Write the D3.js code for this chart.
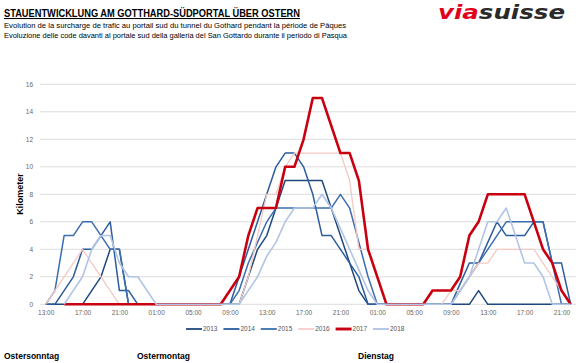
<!DOCTYPE html>
<html>
<head>
<meta charset="utf-8">
<script src="https://cdn.jsdelivr.net/npm/d3@7"></script>
<style>
  body { margin: 0; background: #fff; }
  svg { font-family: "Liberation Sans", Arial, sans-serif; }
</style>
</head>
<body>
<div class="chart"></div>
<script>
// hourly values, Sunday 13:00 .. Tuesday 22:00
var years = ["2013", "2014", "2015", "2016", "2017", "2018"];
var tickLabels = ["13:00","17:00","21:00","01:00","05:00","09:00","13:00","17:00","21:00","01:00","05:00","09:00","13:00","17:00","21:00"];
var yTicks = [0, 2, 4, 6, 8, 10, 12, 14, 16];
var dayLabels = ["Ostersonntag", "Ostermontag", "Dienstag"];

var km2013 = [0,0,0,0,0,1,2,4,4,0, 0,0,0,0,0,0,0,0,0,0, 0,0,2,4,5,7,9,9,9,9, 9,7,5,3,1,0,0,0,0,0, 0,0,0,0,0,0,0,1,0,0, 0,0,0,0,0,0,0,0];
var km2014 = [0,0,1,2,4,4,5,6,1,1, 0,0,0,0,0,0,0,0,0,0, 0,2,4,6,8,10,11,11,10,8, 5,5,4,3,2,0,0,0,0,0, 0,0,0,0,0,1.5,3,3,4.5,6, 5,5,5,6,6,3,3,0];
var km2015 = [0,1,5,5,6,6,5,4,4,0, 0,0,0,0,0,0,0,0,0,0, 0,1,3,4.5,6,7,7,7,7,7, 7,7,8,7,4.5,2,0,0,0,0, 0,0,0,0,0,1,2,3,4,5, 6,6,6,6,6,3,0,0];
var km2016 = [0,1,2,3,4,3,2,1,0,0, 0,0,0,0,0,0,0,0,0,0, 0,0,2,5,8,8,10,11,11,11, 11,11,11,9,4,4,2,0,0,0, 0,0,0,0,1,1,2,3,3,4, 4,4,4,4,3,2,1,0];
var km2017 = [null,null,0,0,0,0,0,0,0,0, 0,0,0,0,0,0,0,0,0,0, 1,2,5,7,7,7,10,10,12,15, 15,13,11,11,9,4,2,0,0,0, 0,0,1,1,1,2,5,6,8,8, 8,8,8,6,4,3,1,0];
var km2018 = [null,null,0,1,2,4,5,5,3,2, 2,1,0,0,0,0,0,0,0,0, 0,0,1,2,3.5,4.5,6,7,7,7, 8,7,5.5,4,2.5,1,0,0,0,0, 0,0,0,0,0,1,2,4,6,6, 7,5,3,3,2,0,0,0];

var seriesValues = [km2013, km2014, km2015, km2016, km2017, km2018];
var colors = ["#1f497d", "#2b5c9b", "#3a6db2", "#f4c9c6", "#c8000f", "#b1c5e4"];
var widths = [1.5, 1.5, 1.5, 1.3, 2.6, 1.6];

var width = 582, height = 363;

var svg = d3.select(".chart").append("svg")
    .attr("width", width)
    .attr("height", height);

/************* header ***************/
svg.append("text")
    .attr("x", 4).attr("y", 17)
    .attr("font-size", 10.5)
    .attr("font-weight", "bold")
    .attr("text-decoration", "underline")
    .attr("textLength", 296)
    .attr("lengthAdjust", "spacingAndGlyphs")
    .text("STAUENTWICKLUNG AM GOTTHARD-SÜDPORTAL ÜBER OSTERN");

svg.append("text")
    .attr("x", 4).attr("y", 28)
    .attr("font-size", 8)
    .attr("textLength", 342)
    .attr("lengthAdjust", "spacingAndGlyphs")
    .text("Evolution de la surcharge de trafic au portail sud du tunnel du Gothard pendant la période de Pâques");

svg.append("text")
    .attr("x", 4).attr("y", 38)
    .attr("font-size", 8)
    .attr("textLength", 343)
    .attr("lengthAdjust", "spacingAndGlyphs")
    .text("Evoluzione delle code davanti al portale sud della galleria del San Gottardo durante il periodo di Pasqua");

// logo
var logo = svg.append("text")
    .attr("x", 438).attr("y", 19)
    .attr("font-family", "DejaVu Sans, sans-serif")
    .attr("font-size", 20)
    .attr("font-weight", "bold")
    .attr("font-style", "italic")
    .attr("textLength", 127)
    .attr("lengthAdjust", "spacingAndGlyphs");
logo.append("tspan").attr("fill", "#e2001a").text("via");
logo.append("tspan").attr("fill", "#2a2a2a").text("suisse");

/************* scales ***************/
var x = d3.scaleLinear().domain([0, 57]).range([45.7, 570.7]);
var y = d3.scaleLinear().domain([0, 16]).range([304.3, 84.3]);

// grid
svg.append("g")
    .selectAll("line")
    .data(yTicks)
    .enter().append("line")
    .attr("x1", 40).attr("x2", 576)
    .attr("y1", d => y(d)).attr("y2", d => y(d))
    .attr("stroke", "#dcdcdc")
    .attr("stroke-width", 1);

var yAxis = d3.axisLeft(y).tickValues(yTicks).tickSize(0).tickPadding(0);
var yg = svg.append("g").attr("transform", "translate(33,0)").call(yAxis);
yg.select(".domain").remove();
yg.selectAll("text").attr("font-size", 6.5).attr("fill", "#666").attr("font-family", "Liberation Sans, Arial, sans-serif");

var xTicks = tickLabels.map((d, i) => i * 4);
var xAxis = d3.axisBottom(x).tickValues(xTicks)
    .tickFormat((d, i) => tickLabels[i]).tickSize(0).tickPadding(0);
var xg = svg.append("g").attr("transform", "translate(0,310)").call(xAxis);
xg.select(".domain").remove();
xg.selectAll("text").attr("font-size", 6.5).attr("fill", "#666").attr("font-family", "Liberation Sans, Arial, sans-serif");

svg.append("text")
    .attr("transform", "translate(23,194) rotate(-90)")
    .attr("text-anchor", "middle")
    .attr("font-size", 9)
    .attr("font-weight", "bold")
    .text("Kilometer");

/************* lines ***************/
var line = d3.line()
    .defined(d => d != null)
    .x((d, i) => x(i))
    .y(d => y(d));

svg.append("g")
    .selectAll("path")
    .data(seriesValues)
    .enter().append("path")
    .attr("fill", "none")
    .attr("stroke", (d, i) => colors[i])
    .attr("stroke-width", (d, i) => widths[i])
    .attr("stroke-linejoin", "round")
    .attr("d", line);

/************* legend ***************/
var legend = svg.append("g").attr("class", "legend")
    .selectAll("g")
    .data(years)
    .enter().append("g")
    .attr("transform", (d, i) => "translate(" + (186 + i * 37.4) + ",329)");
legend.append("line")
    .attr("x1", 0).attr("x2", 16)
    .attr("stroke", (d, i) => colors[i])
    .attr("stroke-width", (d, i) => widths[i] + 0.3);
legend.append("text")
    .attr("x", 17).attr("y", 2.4)
    .attr("font-size", 6.5)
    .attr("fill", "#555")
    .text(d => d);

/************* day labels ***************/
svg.selectAll(".day")
    .data(dayLabels)
    .enter().append("text")
    .attr("class", "day")
    .attr("x", (d, i) => [4, 137, 358][i])
    .attr("y", 359)
    .attr("font-size", 8.5)
    .attr("font-weight", "bold")
    .text(d => d);
</script>
</body>
</html>
